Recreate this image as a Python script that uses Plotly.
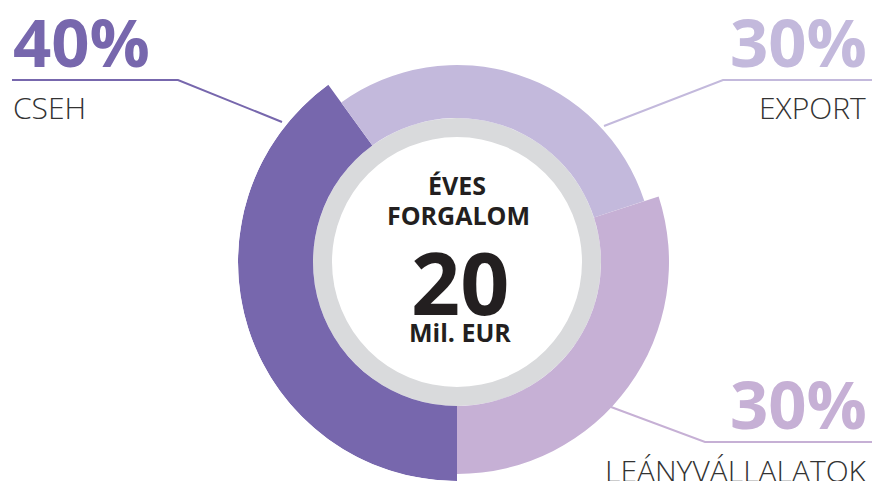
import plotly.graph_objects as go

W, H = 875, 481

# ---- data ----
categories = ["CSEH", "EXPORT", "LEÁNYVÁLLALATOK"]
shares = [40, 30, 30]
pct_labels = ["40%", "30%", "30%"]
center_title = ["ÉVES", "FORGALOM"]
center_value = "20"
center_unit = "Mil. EUR"

# ---- style ----
colors = ["#7767ad", "#c3b9dc", "#c6b0d5"]
outer_r = [219, 197, 212]
inner_r = 144
ring_in, ring_out = 125, 144
start_deg = 180
FONT = "Open Sans"
DARK = "#231f20"

cx, cy, R = 457, 262, 219


def px(x):
    return x / W


def py(y):
    return 1 - y / H


thetas, widths = [], []
acc = start_deg
total = sum(shares)
for s in shares:
    w = s / total * 360
    thetas.append(acc + w / 2)
    widths.append(w)
    acc += w

fig = go.Figure()

# grey inner ring (two halves)
fig.add_trace(go.Barpolar(
    r=[ring_out - ring_in] * 2, theta=[90, 270], width=[180, 180],
    base=[ring_in] * 2, marker=dict(color="#d9dadc", line=dict(width=0)),
    hoverinfo="skip", showlegend=False))

for cat, t, w, c, o in zip(categories, thetas, widths, colors, outer_r):
    fig.add_trace(go.Barpolar(
        r=[o - inner_r], theta=[t], width=[w], base=[inner_r], name=cat,
        marker=dict(color=c, line=dict(width=0)), showlegend=False))

fig.update_layout(
    width=W, height=H,
    margin=dict(l=0, r=0, t=0, b=0),
    paper_bgcolor="white", plot_bgcolor="white",
    polar=dict(
        domain=dict(x=[(cx - R) / W, (cx + R) / W], y=[(H - cy - R) / H, (H - cy + R) / H]),
        bgcolor="rgba(0,0,0,0)",
        radialaxis=dict(range=[0, R], visible=False, showgrid=False),
        angularaxis=dict(rotation=90, direction="clockwise", visible=False, showgrid=False),
        bargap=0,
    ),
)

# leader lines
lines = [
    ([(12, 80), (178, 80), (282, 122)], colors[0]),
    ([(872, 80), (723, 80), (604, 126)], colors[1]),
    ([(872, 442), (705, 442), (611, 407)], colors[2]),
]
for pts, c in lines:
    path = "M " + " L ".join(f"{px(x):.5f},{py(y):.5f}" for x, y in pts)
    fig.add_shape(type="path", path=path, xref="paper", yref="paper",
                  line=dict(color=c, width=2))

ann = []
# percentage labels
ann.append(dict(text=pct_labels[0], x=px(11), y=py(41), xanchor="left", yanchor="middle",
                font=dict(family=FONT, size=67, color=colors[0], weight=700)))
ann.append(dict(text=pct_labels[1], x=px(869), y=py(41), xanchor="right", yanchor="middle",
                font=dict(family=FONT, size=67, color=colors[1], weight=700)))
ann.append(dict(text=pct_labels[2], x=px(869), y=py(403), xanchor="right", yanchor="middle",
                font=dict(family=FONT, size=67, color=colors[2], weight=700)))
# category labels
ann.append(dict(text=categories[0], x=px(11), y=py(107), xanchor="left", yanchor="middle",
                font=dict(family=FONT, size=30, color="#333333", weight=300)))
ann.append(dict(text=categories[1], x=px(868), y=py(107), xanchor="right", yanchor="middle",
                font=dict(family=FONT, size=30, color="#333333", weight=300)))
ann.append(dict(text=categories[2], x=px(869), y=py(470), xanchor="right", yanchor="middle",
                font=dict(family=FONT, size=30, color="#333333", weight=300)))
# centre text
ann.append(dict(text=center_title[0], x=px(457), y=py(184.5), xanchor="center", yanchor="middle",
                font=dict(family=FONT, size=25, color=DARK, weight=700)))
ann.append(dict(text=center_title[1], x=px(458), y=py(214.5), xanchor="center", yanchor="middle",
                font=dict(family=FONT, size=25, color=DARK, weight=700)))
ann.append(dict(text=center_value, x=px(460), y=py(281), xanchor="center", yanchor="middle",
                font=dict(family=FONT, size=86, color=DARK, weight=700)))
ann.append(dict(text=center_unit, x=px(460), y=py(332), xanchor="center", yanchor="middle",
                font=dict(family=FONT, size=25, color=DARK, weight=700)))

for a in ann:
    a.update(xref="paper", yref="paper", showarrow=False)
fig.update_layout(annotations=ann)

fig.write_html("out.html")
